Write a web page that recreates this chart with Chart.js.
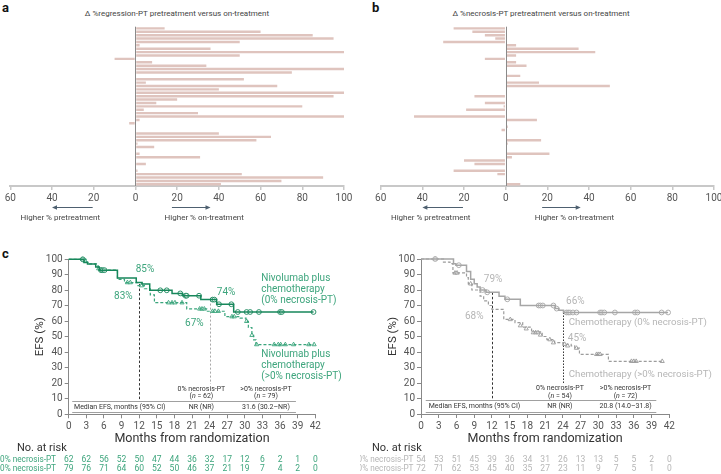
<!DOCTYPE html>
<html>
<head>
<meta charset="utf-8">
<script src="https://cdn.jsdelivr.net/npm/chart.js@4.4.1/dist/chart.umd.min.js"></script>
<style>
  body { margin: 0; background: #fff; }
  #page { position: relative; width: 721px; height: 474px; overflow: hidden; font-family: Roboto, 'Open Sans', sans-serif; }
  canvas { position: absolute; }
  .tag { position: absolute; font-weight: 700; font-size: 13px; color: #111; line-height: 1; }
  .head { position: absolute; font-size: 8px; color: #444; white-space: nowrap; transform: translateX(-50%); line-height: 1; }
</style>
</head>
<body>
<div id="page">
  <div class="tag" style="left:2px;top:1px">a</div>
  <div class="tag" style="left:372px;top:1px">b</div>
  <div class="tag" style="left:2px;top:247px">c</div>
  <div class="head" style="left:177px;top:10px">Δ %regression-PT pretreatment versus on-treatment</div>
  <div class="head" style="left:541px;top:10px">Δ %necrosis-PT pretreatment versus on-treatment</div>
  <canvas id="regression" width="360" height="225" style="left:0;top:0"></canvas>
  <canvas id="necrosis" width="361" height="225" style="left:360px;top:0"></canvas>
  <canvas id="kmNivo" width="360" height="249" style="left:0;top:225px"></canvas>
  <canvas id="kmChemo" width="361" height="249" style="left:360px;top:225px"></canvas>
</div>
<script>
// panels a + b: change per patient, pretreatment vs on-treatment
const regressionDelta = [14, 60, 85, 95, 50, 2, 36, 100, 50, -10, 8, 34, 100, 75, null, 52, 5, 68, 40, 100,
  95, 20, 10, 80, 4, 30, 100, 2, -3, null, null, 40, 65, 58, 1, 9, null, 2, 31, null, 5, null, 1, 51, 90, 70, 41];
const necrosisDelta = [-25, -16, -10, -5, -30, 5, 35, 43, 5, -10, 5, 10, null, null, 7, null, 16, 50, null, null,
  -15, null, -10, -1, -19, null, -44, 15, null, 1, -2, null, null, 17, 1, 0.5, null, 21, 3, -20, -15, null, -25, -4, null, null, 7];
const deltaTicks = [-60, -40, -20, 0, 20, 40, 60, 80, 100];

// panel c: KM steps [month, EFS %] and censor marks
const monthTicks = [0, 3, 6, 9, 12, 15, 18, 21, 24, 27, 30, 33, 36, 39, 42];
const efsTicks = [0, 10, 20, 30, 40, 50, 60, 70, 80, 90, 100];

const nivoZeroSteps = [[0, 100], [2.6, 98], [3.2, 97], [4.6, 95], [5.2, 93], [8.3, 88], [11.5, 85], [12.5, 84], [13.8, 80],
  [17.6, 78], [19.4, 76.5], [22.5, 74], [25.2, 71], [28.1, 66], [41.7, 66]];
const nivoZeroCensored = [[2.4, 100], [5.5, 93], [5.8, 93], [6.1, 93], [15.6, 80], [16.7, 80], [19, 78], [19.9, 76.5], [20.1, 76.5],
  [22.2, 76.5], [24.5, 74], [24.8, 74], [25.6, 71], [27.7, 71], [28.8, 66], [30.3, 66], [30.9, 66], [32.4, 66], [36, 66], [36.3, 66], [41.7, 66]];
const nivoPosSteps = [[0, 100], [3.1, 98], [3.6, 97], [5, 95], [5.4, 93], [8.3, 87], [9.5, 85], [11.8, 83], [12.9, 81], [13.9, 77],
  [14.6, 72], [20.1, 68], [23.5, 66.5], [26.6, 63], [29.2, 62], [30.2, 60], [30.6, 56], [31.2, 51], [31.5, 48], [31.9, 45], [41.8, 45]];
const nivoPosCensored = [[2.4, 100], [2.8, 99], [5.1, 94], [5.6, 93], [10, 85], [10.5, 85], [12.4, 83], [17, 72], [17.6, 72], [18.1, 72],
  [19.3, 72], [22.3, 68], [22.7, 68], [23.1, 68], [24.5, 66.5], [24.9, 66.5], [25.5, 66.5], [27.8, 63], [28.2, 63], [30.3, 60], [31.2, 51],
  [32, 45], [35, 45], [35.7, 45], [36.1, 45], [36.9, 45], [38.3, 45], [40.9, 45], [41.8, 45]];

const chemoZeroSteps = [[0, 100], [5.5, 97], [5.9, 96], [7.7, 92], [8.4, 87], [9, 84], [9.5, 82], [10, 80], [11, 78.5], [13.2, 76],
  [14.2, 74], [16.8, 70], [22.7, 68], [23.3, 67], [24.1, 65.5], [41.8, 65.5]];
const chemoZeroCensored = [[2.4, 100], [6.4, 96], [10.4, 80], [11.2, 78.5], [14.6, 74], [19.9, 70], [20.2, 70], [20.6, 70], [22.4, 70],
  [22.95, 68], [24.6, 65.5], [24.9, 65.5], [25.2, 65.5], [25.7, 65.5], [26.3, 65.5], [30.3, 65.5], [30.6, 65.5], [31, 65.5], [32.8, 65.5],
  [36.2, 65.5], [36.6, 65.5], [40.7, 65.5], [41.8, 65.5]];
const chemoPosSteps = [[0, 100], [3.8, 98], [4.9, 97], [5.4, 91], [7.7, 88], [8, 84], [8.6, 80], [10, 76], [10.6, 73], [11.4, 70],
  [12, 67.5], [14, 61], [15.9, 59], [17.2, 56], [18.7, 53], [20.5, 50], [21.3, 48], [22.6, 46], [24, 45], [25.4, 44], [26, 42.5],
  [26.8, 38.5], [31.7, 34], [40.8, 34]];
const chemoPosCensored = [[2.4, 100], [5.75, 91], [6.1, 91], [8.4, 84], [15.1, 61], [16.8, 57], [17.8, 55], [19, 52.5], [19.4, 52.5],
  [19.8, 52.5], [20.2, 51], [21.8, 48], [22.4, 46], [24.3, 45], [24.8, 44], [26.3, 42.5], [29.7, 38.5], [30, 38.5], [30.3, 38.5],
  [35.6, 34], [36, 34], [36.4, 34], [40.8, 34]];

const nivoZeroAtRisk = [62, 62, 56, 52, 50, 47, 44, 36, 32, 17, 12, 6, 2, 1, 0];
const nivoPosAtRisk = [79, 76, 71, 64, 60, 52, 50, 46, 37, 21, 19, 7, 4, 2, 0];
const chemoZeroAtRisk = [54, 53, 51, 45, 39, 36, 34, 31, 26, 13, 13, 5, 5, 2, 0];
const chemoPosAtRisk = [72, 71, 62, 53, 45, 40, 35, 27, 23, 11, 9, 7, 5, 1, 0];

const FONT = 'Roboto, "Open Sans", sans-serif';
Chart.defaults.font.family = FONT;
const barColour = '#dfc4be';
const green = '#3ea57d';
const grey = '#b6b6b6';

function arrow(ctx, from, to, y) {
  const dir = Math.sign(to - from);
  ctx.strokeStyle = '#4e6070';
  ctx.fillStyle = '#4e6070';
  ctx.lineWidth = 1;
  ctx.beginPath(); ctx.moveTo(from, y); ctx.lineTo(to - dir * 3, y); ctx.stroke();
  ctx.beginPath(); ctx.moveTo(to, y); ctx.lineTo(to - dir * 5, y - 2.2); ctx.lineTo(to - dir * 5, y + 2.2); ctx.closePath(); ctx.fill();
}

const deltaOverlay = {
  id: 'deltaOverlay',
  afterDatasetsDraw(chart) {
    const { ctx, chartArea, scales: { x } } = chart;
    const x0 = Math.round(x.getPixelForValue(0)) + 0.5;
    ctx.save();
    ctx.strokeStyle = '#8a8a8a';
    ctx.lineWidth = 1;
    ctx.beginPath(); ctx.moveTo(x0, chartArea.top); ctx.lineTo(x0, chartArea.bottom); ctx.stroke();
    arrow(ctx, x.getPixelForValue(-20.5), x.getPixelForValue(-40), 207.5);
    arrow(ctx, x.getPixelForValue(17.5), x.getPixelForValue(36), 207.5);
    ctx.fillStyle = '#444';
    ctx.font = '8px ' + FONT;
    ctx.textAlign = 'center';
    ctx.textBaseline = 'middle';
    ctx.fillText('Higher % pretreatment', x.getPixelForValue(-36), 218);
    ctx.fillText('Higher % on-treatment', x.getPixelForValue(33), 218);
    ctx.restore();
  }
};

function deltaChart(id, values, padLeft, padRight) {
  return new Chart(document.getElementById(id), {
    type: 'bar',
    data: {
      labels: values.map((_, i) => 'Patient ' + (i + 1)),
      datasets: [{ data: values, backgroundColor: barColour, barPercentage: 0.72, categoryPercentage: 1 }]
    },
    options: {
      indexAxis: 'y',
      responsive: false,
      animation: false,
      layout: { padding: { left: padLeft, right: padRight, top: 26.7, bottom: 0 } },
      plugins: { legend: { display: false }, tooltip: { enabled: false } },
      scales: {
        x: {
          min: -60, max: 100,
          afterBuildTicks: s => { s.ticks = deltaTicks.map(v => ({ value: v })); },
          ticks: { callback: v => Math.abs(v), color: '#555', font: { size: 10 }, padding: 2 },
          grid: { drawOnChartArea: false, tickLength: 4, color: '#c8c8c8', lineWidth: 1.5 },
          border: { color: '#c8c8c8', width: 2 },
          afterFit: s => { s.height = 39; s.paddingLeft = 0; s.paddingRight = 0; }
        },
        y: { display: false }
      }
    },
    plugins: [deltaOverlay]
  });
}

deltaChart('regression', regressionDelta, 10.3, 16);
deltaChart('necrosis', necrosisDelta, 20.7, 7);

function makeKm(id, cfg) {
  const datasets = [];
  cfg.arms.forEach(arm => {
    datasets.push({
      data: arm.steps.map(([x, y]) => ({ x, y })),
      borderColor: arm.colour, borderWidth: arm.width, borderDash: arm.dash,
      stepped: true, pointRadius: 0, fill: false, clip: false
    });
    datasets.push({
      data: arm.censored.map(([x, y]) => ({ x, y })),
      showLine: false, pointStyle: arm.marker, pointRadius: 2.4, pointBorderWidth: 0.9,
      pointBorderColor: arm.colour, pointBackgroundColor: 'rgba(255,255,255,0.5)', clip: false
    });
  });

  const overlay = {
    id: 'kmOverlay',
    beforeDatasetsDraw(chart) {
      const { ctx, scales: { x, y } } = chart;
      ctx.save();
      cfg.guides.forEach(g => {
        const px = Math.round(x.getPixelForValue(g.month)) + 0.5;
        ctx.strokeStyle = g.colour;
        ctx.lineWidth = 1;
        ctx.setLineDash(g.dash);
        ctx.beginPath(); ctx.moveTo(px, y.getPixelForValue(g.from)); ctx.lineTo(px, y.getPixelForValue(g.to)); ctx.stroke();
      });
      ctx.restore();
    },
    afterDraw(chart) {
      const { ctx, chartArea, scales: { x, y } } = chart;
      ctx.save();
      ctx.textBaseline = 'middle';

      // axis titles
      ctx.fillStyle = '#333';
      ctx.font = '12.5px ' + FONT;
      ctx.textAlign = 'center';
      ctx.fillText('Months from randomization', (chartArea.left + chartArea.right) / 2, 214);
      ctx.font = '11.5px ' + FONT;
      ctx.save();
      ctx.translate(cfg.yTitleX, (chartArea.top + chartArea.bottom) / 2);
      ctx.rotate(-Math.PI / 2);
      ctx.fillText('EFS (%)', 0, 0);
      ctx.restore();

      // landmark percentages
      ctx.fillStyle = cfg.text;
      ctx.font = '10px ' + FONT;
      cfg.pct.forEach(([m, v, t]) => ctx.fillText(t, x.getPixelForValue(m), y.getPixelForValue(v)));

      // arm labels
      ctx.textAlign = 'left';
      ctx.font = cfg.armFont + 'px ' + FONT;
      cfg.armText.forEach(([m, ys, lines]) => lines.forEach((l, i) => ctx.fillText(l, x.getPixelForValue(m), y.getPixelForValue(ys[i]))));

      // median EFS box
      const t = cfg.table;
      ctx.strokeStyle = '#a0a0a0';
      ctx.lineWidth = 1.2;
      [8.8, 1.3].forEach(v => {
        const py = Math.round(y.getPixelForValue(v)) + 0.5;
        ctx.beginPath(); ctx.moveTo(x.getPixelForValue(t.from), py); ctx.lineTo(x.getPixelForValue(t.to), py); ctx.stroke();
      });
      ctx.fillStyle = '#333';
      ctx.font = '7px ' + FONT;
      ctx.textAlign = 'center';
      ctx.fillText('Median EFS, months (95% CI)', x.getPixelForValue(t.label), y.getPixelForValue(4.8));
      t.cols.forEach(([m, head, n, med]) => {
        const px = x.getPixelForValue(m);
        ctx.fillText(head, px, y.getPixelForValue(16.4));
        const tail = ' = ' + n + ')';
        const w1 = ctx.measureText('(').width;
        ctx.font = 'italic 7px ' + FONT;
        const w2 = ctx.measureText('n').width;
        ctx.font = '7px ' + FONT;
        const w3 = ctx.measureText(tail).width;
        const sx = px - (w1 + w2 + w3) / 2;
        const py = y.getPixelForValue(11.7);
        ctx.textAlign = 'left';
        ctx.fillText('(', sx, py);
        ctx.font = 'italic 7px ' + FONT;
        ctx.fillText('n', sx + w1, py);
        ctx.font = '7px ' + FONT;
        ctx.fillText(tail, sx + w1 + w2, py);
        ctx.textAlign = 'center';
        ctx.fillText(med, px, y.getPixelForValue(4.8));
      });

      // number at risk
      const r = cfg.risk;
      ctx.fillStyle = '#333';
      ctx.font = '11px ' + FONT;
      ctx.textAlign = 'left';
      ctx.fillText('No. at risk', r.titleX, 223);
      ctx.fillStyle = r.colour;
      r.rows.forEach(([label, counts], i) => {
        const py = 235 + i * 9.3;
        ctx.font = '8.2px ' + FONT;
        ctx.textAlign = 'right';
        ctx.fillText(label, r.labelRight, py);
        ctx.font = '8.5px ' + FONT;
        ctx.textAlign = 'center';
        counts.forEach((c, j) => ctx.fillText(String(c), x.getPixelForValue(monthTicks[j]), py));
      });
      ctx.restore();
    }
  };

  return new Chart(document.getElementById(id), {
    type: 'line',
    data: { datasets },
    options: {
      responsive: false,
      animation: false,
      layout: { padding: { left: 0, top: cfg.layout.top, right: cfg.layout.right, bottom: cfg.layout.bottom } },
      plugins: { legend: { display: false }, tooltip: { enabled: false } },
      scales: {
        x: {
          type: 'linear', min: 0, max: 42,
          afterBuildTicks: s => { s.ticks = monthTicks.map(v => ({ value: v })); },
          ticks: { color: '#555', font: { size: 10 }, padding: 2, maxRotation: 0, autoSkip: false },
          grid: { drawOnChartArea: false, tickLength: 4, color: '#888' },
          border: { color: '#888', width: 1 },
          afterFit: s => { s.height = 20; s.paddingLeft = 0; s.paddingRight = 0; }
        },
        y: {
          min: 0, max: 100,
          afterBuildTicks: s => { s.ticks = efsTicks.map(v => ({ value: v })); },
          ticks: { color: '#555', font: { size: 10 }, padding: 2 },
          grid: { drawOnChartArea: false, tickLength: 4, color: '#888' },
          border: { color: '#888', width: 1 },
          afterFit: s => { s.width = cfg.layout.yWidth; s.paddingTop = 0; s.paddingBottom = 0; }
        }
      }
    },
    plugins: [overlay]
  });
}

makeKm('kmNivo', {
  arms: [
    { steps: nivoZeroSteps, censored: nivoZeroCensored, colour: '#17875b', dash: [], marker: 'circle', width: 1.5 },
    { steps: nivoPosSteps, censored: nivoPosCensored, colour: '#3aa57c', dash: [3, 2], marker: 'triangle', width: 1.2 }
  ],
  layout: { top: 34.3, right: 44.7, bottom: 39.7, yWidth: 68.7 },
  text: green,
  armFont: 10,
  yTitleX: 40,
  guides: [
    { month: 12, from: 84, to: 8.8, colour: '#333', dash: [2.5, 2] },
    { month: 24, from: 74, to: 19.5, colour: '#a8a8a8', dash: [2, 2] }
  ],
  pct: [[13, 93.7, '85%'], [9.3, 75.7, '83%'], [26.8, 78.3, '74%'], [21.4, 58.9, '67%']],
  armText: [
    [32.8, [87.9, 80.8, 73.7], ['Nivolumab plus', 'chemotherapy', '(0% necrosis-PT)']],
    [32.8, [38.3, 31.2, 24.1], ['Nivolumab plus', 'chemotherapy', '(>0% necrosis-PT)']]
  ],
  table: { from: 0.6, to: 38.7, label: 8.7, cols: [[22.6, '0% necrosis-PT', '62', 'NR (NR)'], [33.6, '>0% necrosis-PT', '79', '31.6 (30.2–NR)']] },
  risk: { titleX: 17, labelRight: 56, colour: green, rows: [['0% necrosis-PT', nivoZeroAtRisk], ['>0% necrosis-PT', nivoPosAtRisk]] }
});

makeKm('kmChemo', {
  arms: [
    { steps: chemoZeroSteps, censored: chemoZeroCensored, colour: '#a6a6a6', dash: [], marker: 'circle', width: 1.5 },
    { steps: chemoPosSteps, censored: chemoPosCensored, colour: '#9c9c9c', dash: [3, 2], marker: 'triangle', width: 1.2 }
  ],
  layout: { top: 34, right: 51.7, bottom: 40, yWidth: 61 },
  text: grey,
  armFont: 9.7,
  yTitleX: 33,
  guides: [
    { month: 12, from: 78.5, to: 8.8, colour: '#333', dash: [2.5, 2] },
    { month: 24, from: 65.5, to: 19.5, colour: '#333', dash: [1.5, 1.5] }
  ],
  pct: [[12.2, 86.5, '79%'], [9, 62.6, '68%'], [26.1, 72.3, '66%'], [26.4, 49, '45%']],
  armText: [
    [25, [58.7], ['Chemotherapy (0% necrosis-PT)']],
    [25, [25.2], ['Chemotherapy (>0% necrosis-PT)']]
  ],
  table: { from: 0.8, to: 39.8, label: 9.05, cols: [[23.5, '0% necrosis-PT', '54', 'NR (NR)'], [34.6, '>0% necrosis-PT', '72', '20.8 (14.0–31.8)']] },
  risk: { titleX: 12, labelRight: 53.5, colour: grey, rows: [['0% necrosis-PT', chemoZeroAtRisk], ['>0% necrosis-PT', chemoPosAtRisk]] }
});
</script>
</body>
</html>
